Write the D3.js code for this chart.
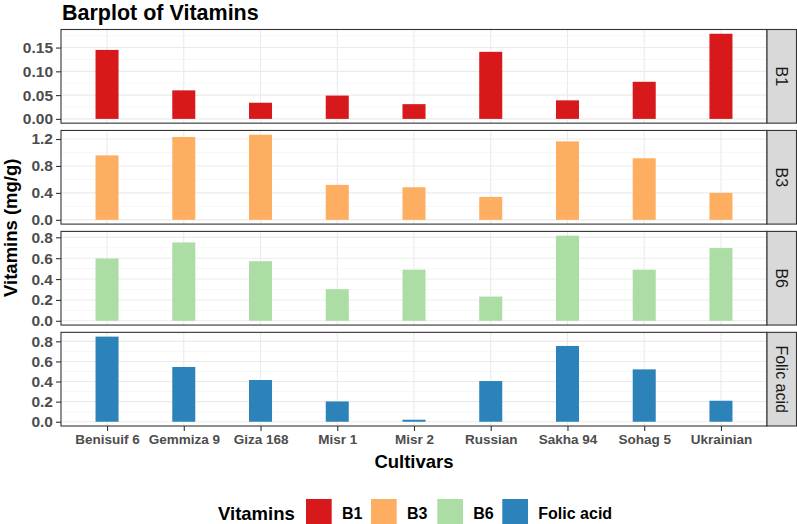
<!DOCTYPE html>
<html><head><meta charset="utf-8">
<script src="https://cdn.jsdelivr.net/npm/d3@7"></script>
<style>body{margin:0;background:#fff;} svg{display:block;} text{font-family:"Liberation Sans",Arial,sans-serif;}</style>
</head><body>
<svg id="c" width="797" height="524"></svg>
<script>
const cultivars = ["Benisuif 6","Gemmiza 9","Giza 168","Misr 1","Misr 2","Russian","Sakha 94","Sohag 5","Ukrainian"];
const vitamins = ["B1","B3","B6","Folic acid"];
const b1 = [0.145,0.060,0.034,0.049,0.031,0.141,0.039,0.078,0.179];
const b3 = [0.957,1.230,1.264,0.519,0.484,0.341,1.165,0.914,0.400];
const b6 = [0.597,0.751,0.571,0.303,0.490,0.232,0.816,0.490,0.697];
const folic = [0.847,0.545,0.415,0.202,0.020,0.405,0.754,0.521,0.209];
const colors = ["#D7191C","#FDAE61","#ABDDA4","#2B83BA"];
const yTicks = [[0,0.05,0.10,0.15],[0,0.4,0.8,1.2],[0,0.2,0.4,0.6,0.8],[0,0.2,0.4,0.6,0.8]];
const yFormats = [".2f",".1f",".1f",".1f"];
const series = [b1,b3,b6,folic];

const svg = d3.select("#c");
const left = 61, right = 767, stripW = 29.5;
const top0 = 29.5, bottom0 = 426, gap = 7.3;
const ph = (bottom0 - top0 - 3*gap)/4;

// ggplot discrete expansion: 0.6 units each side
const step = (right-left)/(cultivars.length-1+1.2);
const xc = c => left + step*(0.6 + cultivars.indexOf(c));
const barW = step*0.3;

series.forEach((vals, i) => {
  const t = top0 + i*(ph+gap), b = t + ph;
  const mx = d3.max(vals);
  const y = d3.scaleLinear().domain([-0.05*mx, 1.05*mx]).range([b, t]);
  const g = svg.append("g");
  g.append("rect").attr("x",left).attr("y",t).attr("width",right-left).attr("height",ph).attr("fill","#fff");
  const tk = yTicks[i], d = tk[1]-tk[0];
  const minors = [];
  for (let v = tk[0]-d/2; v <= 1.05*mx; v += d) if (v >= -0.05*mx) minors.push(v);
  g.selectAll(".mn").data(minors).enter().append("line")
    .attr("x1",left).attr("x2",right).attr("y1",v=>y(v)).attr("y2",v=>y(v))
    .attr("stroke","#F2F2F2").attr("stroke-width",0.6);
  g.selectAll(".mj").data(tk).enter().append("line")
    .attr("x1",left).attr("x2",right).attr("y1",v=>y(v)).attr("y2",v=>y(v))
    .attr("stroke","#EBEBEB").attr("stroke-width",1.1);
  g.selectAll(".vx").data(cultivars).enter().append("line")
    .attr("x1",c=>xc(c)).attr("x2",c=>xc(c)).attr("y1",t).attr("y2",b)
    .attr("stroke","#EBEBEB").attr("stroke-width",1.1);
  g.selectAll(".bar").data(vals).enter().append("rect")
    .attr("x",(v,j)=>xc(cultivars[j])-barW/2).attr("width",barW)
    .attr("y",v=>y(v)).attr("height",v=>y(0)-y(v))
    .attr("fill",colors[i]);
  g.append("rect").attr("x",left).attr("y",t).attr("width",right-left).attr("height",ph)
    .attr("fill","none").attr("stroke","#333333").attr("stroke-width",1.1);
  g.append("rect").attr("x",right).attr("y",t).attr("width",stripW).attr("height",ph)
    .attr("fill","#D9D9D9").attr("stroke","#333333").attr("stroke-width",1.1);
  g.append("text").attr("transform",`translate(${right+stripW/2},${t+ph/2}) rotate(90)`)
    .attr("text-anchor","middle").attr("dy","0.35em").attr("font-size",16)
    .attr("fill","#1A1A1A").text(vitamins[i]);
  const ax = d3.axisLeft(y).tickValues(tk).tickFormat(d3.format(yFormats[i])).tickSize(5).tickPadding(3);
  const ag = g.append("g").attr("transform",`translate(${left},0)`).call(ax);
  ag.select(".domain").remove();
  ag.selectAll(".tick line").attr("stroke","#333333").attr("stroke-width",1.1);
  ag.selectAll(".tick text").attr("font-size",15.5).attr("font-weight","bold").attr("fill","#4D4D4D")
    .attr("font-family","Liberation Sans, Arial, sans-serif");
  if (i === 3) {
    const xa = d3.axisBottom(d3.scalePoint().domain(cultivars).range([xc(cultivars[0]), xc(cultivars[8])]))
      .tickSize(5).tickPadding(3);
    const xg = g.append("g").attr("transform",`translate(0,${b})`).call(xa);
    xg.select(".domain").remove();
    xg.selectAll(".tick line").attr("stroke","#333333").attr("stroke-width",1.1);
    xg.selectAll(".tick text").attr("font-size",13.5).attr("font-weight","bold").attr("fill","#4D4D4D")
      .attr("font-family","Liberation Sans, Arial, sans-serif");
  }
});

svg.append("text").attr("x",62).attr("y",19.5).attr("font-size",21.5).attr("font-weight","bold").attr("fill","#000").text("Barplot of Vitamins");
svg.append("text").attr("x",(left+right)/2).attr("y",467.5).attr("text-anchor","middle").attr("font-size",18.5).attr("font-weight","bold").attr("fill","#000").text("Cultivars");
svg.append("text").attr("transform",`translate(17,${(top0+bottom0)/2}) rotate(-90)`).attr("text-anchor","middle")
  .attr("font-size",18.5).attr("font-weight","bold").attr("fill","#000").text("Vitamins (mg/g)");

const lg = svg.append("g");
lg.append("text").attr("x",218).attr("y",519.5).attr("font-size",18.5).attr("font-weight","bold").attr("fill","#000").text("Vitamins");
const keyX = [306, 371, 437.3, 502.3];
vitamins.forEach((v,i) => {
  lg.append("rect").attr("x",keyX[i]).attr("y",499).attr("width",25.7).attr("height",25.7).attr("fill",colors[i]);
  lg.append("text").attr("x",keyX[i]+36).attr("y",519).attr("font-size",16).attr("font-weight","bold").attr("fill","#000").text(v);
});
</script>
</body></html>
